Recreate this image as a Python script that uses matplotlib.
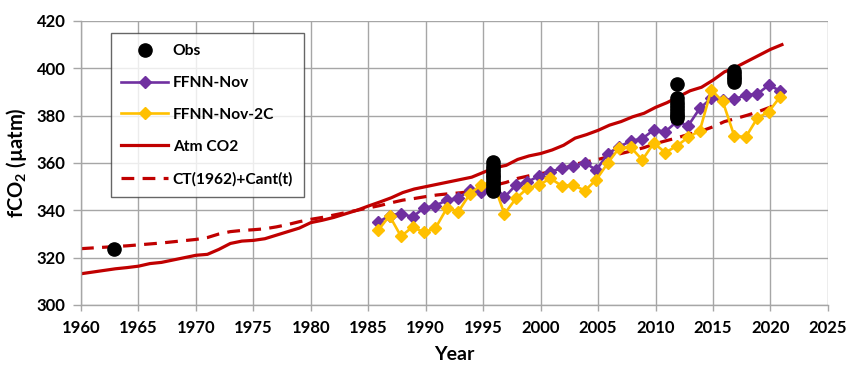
import numpy as np
import matplotlib
matplotlib.use("Agg")
import matplotlib.pyplot as plt

plt.rcParams["font.family"] = ["Lato", "DejaVu Sans"]
plt.rcParams["font.weight"] = "bold"
plt.rcParams["mathtext.fontset"] = "custom"
plt.rcParams["mathtext.rm"] = "Lato:bold"
plt.rcParams["mathtext.bf"] = "Lato:bold"

# ---- data ----
atm_years = list(range(1960, 2022))
atm_co2 = [313.2, 313.9, 314.6, 315.3, 315.8, 316.4, 317.5, 318.0, 319.0, 320.0,
           321.0, 321.4, 323.5, 326.0, 327.0, 327.3, 328.0, 329.5, 331.0, 332.5,
           334.8, 335.8, 337.0, 338.5, 340.0, 341.8, 343.5, 345.3, 347.5, 349.0,
           350.0, 351.0, 352.0, 353.0, 354.0, 356.0, 358.0, 359.0, 361.5, 363.0,
           364.0, 365.5, 367.5, 370.5, 372.0, 373.8, 376.0, 377.5, 379.5, 381.0,
           383.5, 385.5, 388.0, 390.5, 392.0, 395.0, 398.5, 400.5, 403.0, 405.5,
           408.0, 410.0]
ct_cant = [323.8, 324.1, 324.4, 324.7, 325.0, 325.4, 325.8, 326.2, 326.7, 327.2,
           327.7, 328.5, 330.0, 331.0, 331.5, 331.8, 332.2, 333.0, 334.0, 335.2,
           336.2, 337.0, 338.0, 339.0, 340.0, 341.0, 342.0, 343.2, 344.3, 345.0,
           345.8, 346.5, 347.0, 347.4, 348.0, 349.2, 350.6, 351.8, 353.5, 354.6,
           355.5, 356.3, 357.6, 359.5, 360.5, 361.5, 362.8, 364.0, 365.2, 366.5,
           368.2, 369.5, 370.8, 372.3, 373.5, 375.3, 377.5, 378.8, 380.2, 381.8,
           383.6, 386.4]

ffnn_years = [1985.85, 1986.85, 1987.85, 1988.85, 1989.85, 1990.85, 1991.85, 1992.85,
              1993.85, 1994.85, 1995.85, 1996.85, 1997.85, 1998.85, 1999.85, 2000.85,
              2001.85, 2002.85, 2003.85, 2004.85, 2005.85, 2006.85, 2007.85, 2008.85,
              2009.85, 2010.85, 2011.85, 2012.85, 2013.85, 2014.85, 2015.85, 2016.85,
              2017.85, 2018.85, 2019.85, 2020.85]
ffnn_nov = [334.9, 337.8, 338.6, 337.2, 341.0, 342.0, 344.3, 345.2, 348.5, 347.8,
            351.0, 345.5, 350.7, 352.0, 354.5, 356.3, 357.8, 358.7, 360.1, 357.0,
            364.0, 366.9, 369.3, 370.3, 374.0, 373.2, 377.5, 375.8, 383.1, 387.3,
            386.6, 386.9, 388.7, 389.1, 392.9, 390.5]
ffnn_nov_2c = [331.5, 337.7, 329.0, 333.0, 330.7, 332.5, 341.0, 339.5, 347.0, 350.8,
               352.0, 338.5, 345.0, 349.3, 350.7, 353.5, 350.3, 350.7, 348.3, 353.0,
               360.0, 366.5, 366.6, 361.3, 368.4, 364.4, 367.2, 370.9, 373.6, 390.9,
               386.0, 371.5, 370.9, 378.9, 381.7, 388.0]

obs_years = [1962.85,
             1995.85, 1995.85, 1995.85, 1995.85, 1995.85, 1995.85, 1995.85, 1995.85,
             1995.85, 1995.85, 1995.85,
             2011.85, 2011.85, 2011.85, 2011.85, 2011.85, 2011.85, 2011.85, 2011.85,
             2011.85,
             2016.85, 2016.85, 2016.85, 2016.85, 2016.85]
obs_fco2 = [323.8,
            348.0, 349.0, 350.2, 351.5, 352.8, 354.0, 355.1, 356.3, 357.6, 358.9, 360.5,
            393.4, 378.9, 379.8, 380.9, 382.0, 383.2, 384.5, 385.8, 387.3,
            394.2, 395.3, 396.5, 397.8, 399.0]

purple = "#7030A0"
yellow = "#FFC000"
red = "#C00000"
grid_c = "#A6A6A6"

fig = plt.figure(figsize=(8.5, 3.65), dpi=100)
ax = fig.add_axes([0.0953, 0.1644, 0.8787, 0.7781])

ax.plot(atm_years, ct_cant, color=red, lw=2.3, dashes=(4, 2.6), zorder=2,
        label="CT(1962)+Cant(t)")
ax.plot(atm_years, atm_co2, color=red, lw=2.3, zorder=2, label="Atm CO2")
ax.plot(ffnn_years, ffnn_nov, color=purple, lw=1.9, marker="D", ms=6,
        mec=purple, zorder=3, label="FFNN-Nov")
ax.plot(ffnn_years, ffnn_nov_2c, color=yellow, lw=1.9, marker="D", ms=6,
        mec=yellow, zorder=4, label="FFNN-Nov-2C")
ax.plot(obs_years, obs_fco2, ls="none", marker="o", ms=9.5, color="black",
        zorder=5, label="Obs")

ax.set_xlim(1960, 2025)
ax.set_ylim(300, 420)
ax.set_xticks(range(1960, 2026, 5))
ax.set_yticks(range(300, 421, 20))
ax.grid(True, color=grid_c, lw=1)
ax.set_axisbelow(True)
for s in ["top", "right"]:
    ax.spines[s].set_visible(False)
for s in ["left", "bottom"]:
    ax.spines[s].set_color(grid_c)
    ax.spines[s].set_linewidth(1)
ax.tick_params(axis="both", colors=grid_c, labelcolor="black", labelsize=12,
               width=1)
ax.tick_params(axis="y", length=6, pad=5)
ax.tick_params(axis="x", length=4, pad=7)
for lab in ax.get_xticklabels() + ax.get_yticklabels():
    lab.set_fontweight("bold")

ax.set_xlabel("Year", fontsize=14, fontweight="bold", labelpad=7)
ax.set_ylabel(r"fCO$_\mathbf{2}$ (µatm)", fontsize=14.5, fontweight="bold",
              labelpad=6)

h, l = ax.get_legend_handles_labels()
order = ["Obs", "FFNN-Nov", "FFNN-Nov-2C", "Atm CO2", "CT(1962)+Cant(t)"]
hs = [h[l.index(o)] for o in order]
leg = fig.legend(hs, order, loc="upper left", bbox_to_anchor=(0.130, 0.909),
                 fontsize=11.2, frameon=True, fancybox=False, handlelength=3.0,
                 handletextpad=0.3, labelspacing=1.15, borderpad=0.7,
                 borderaxespad=0)
leg.get_frame().set_edgecolor("#404040")
leg.get_frame().set_linewidth(1)
for t in leg.get_texts():
    t.set_fontweight("bold")

fig.savefig("out.png", dpi=100, facecolor="white")
